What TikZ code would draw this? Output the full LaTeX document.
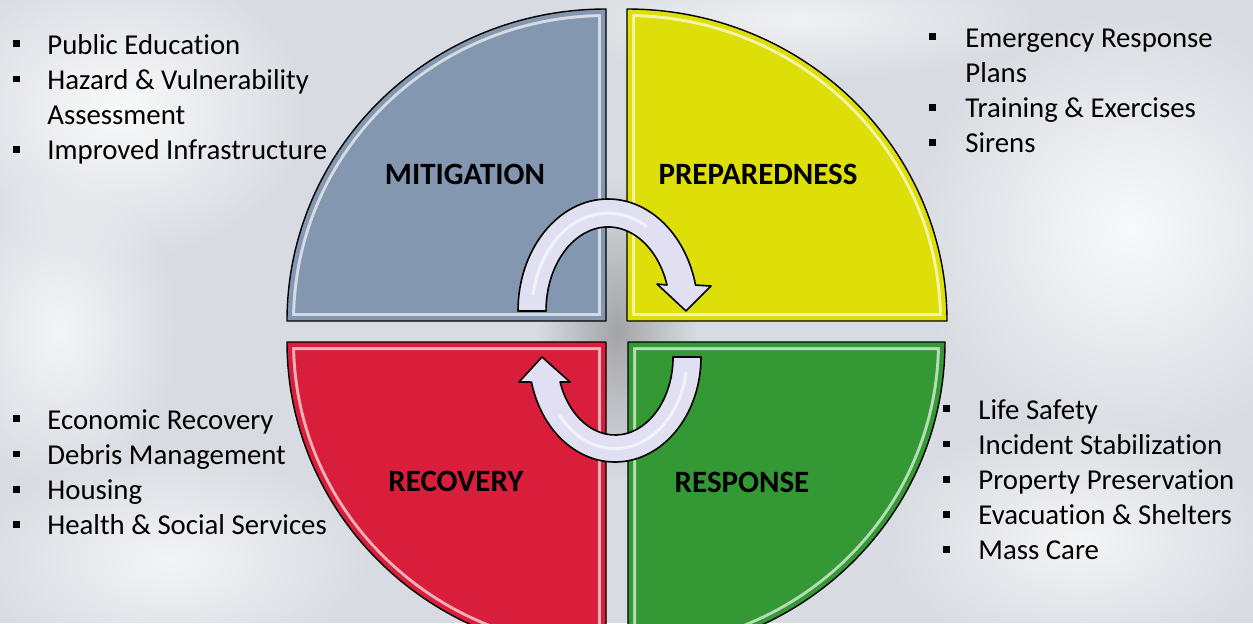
\documentclass[tikz,border=0pt]{standalone}
\usepackage{fontspec}
\setmainfont{Carlito}[Ligatures=CommonOff]
\usepackage{xcolor}
\usetikzlibrary{positioning, fadings}

\definecolor{slidegray}{RGB}{216,220,226}
\definecolor{mitblue}{RGB}{132,151,176}
\definecolor{preyellow}{RGB}{222,222,8}
\definecolor{recred}{RGB}{216,30,58}
\definecolor{resgreen}{RGB}{52,152,52}
\definecolor{arrowfill}{RGB}{224,224,242}

\tikzfading[name=softblob, inner color=transparent!0, outer color=transparent!100]

\newcommand{\bulletsq}{\rule[3.4pt]{3.4pt}{3.4pt}}
% one quarter of the cycle: fill, bevel, outline
\newcommand{\phasequarter}[2]{%
    \fill[#1] #2;
    \begin{scope}
        \clip #2;
        \draw[#1!35!white, line width=8pt] #2;
        \draw[#1, line width=5pt] #2;
    \end{scope}
    \draw[quarter] #2;
}

\tikzset{
x=0.5pt, y=-0.5pt, % one unit is one pixel of the slide, y runs down
quarter/.style={draw=black, line width=0.7pt, line join=round}, % outline of a phase
phase/.style={font=\fontsize{15.5}{18}\selectfont\bfseries, inner sep=0pt}, % phase names
duties/.style={font=\fontsize{14.4}{17.6}\selectfont, inner sep=0pt, anchor=base west}, % bullet lists
cyclearrow/.style={draw=black, line width=0.8pt, fill=arrowfill, line join=round}, % curved block arrows
shine/.style={white, opacity=.6, line width=1.5pt, line cap=round}, % highlight on the arrows
blob/.style={path fading=softblob}, % soft marble patches
}

\begin{document}
\begin{tikzpicture}
    % slide background
    \fill[slidegray] (0,0) rectangle (1253,623);
    \useasboundingbox (0,0) rectangle (1253,623);
    \fill[white, opacity=.85, blob] (120,110) ellipse (190 and 150);
    \fill[white, opacity=.7, blob] (60,330) ellipse (120 and 160);
    \fill[white, opacity=.7, blob] (170,560) ellipse (200 and 110);
    \fill[white, opacity=.85, blob] (1130,230) ellipse (220 and 220);
    \fill[white, opacity=.7, blob] (1080,540) ellipse (200 and 120);
    \fill[white, opacity=.6, blob] (800,20) ellipse (250 and 60);
    \fill[black!50, opacity=.6, blob] (617,330) ellipse (80 and 150);

    % the four phases
    \phasequarter{mitblue}{(606,321) -- (287,321) arc[start angle=180, end angle=270, x radius=319, y radius=312] -- cycle}
    \phasequarter{preyellow}{(627,321) -- (627,9) arc[start angle=270, end angle=360, x radius=320, y radius=312] -- cycle}
    \phasequarter{recred}{(606,342) -- (287,342) arc[start angle=180, end angle=90, x radius=319, y radius=312] -- cycle}
    \phasequarter{resgreen}{(628,342) -- (945,342) arc[start angle=0, end angle=90, x radius=317, y radius=312] -- cycle}

    \node[phase] (mitigation) at (465,174) {MITIGATION};
    \node[phase] (preparedness) at (758,174) {PREPAREDNESS};
    \node[phase] (recovery) at (456,481) {RECOVERY};
    \node[phase] (response) at (742,482) {RESPONSE};

    % cycle arrows
    \path[cyclearrow] (518,311) arc[start angle=180, end angle=346.6, x radius=90, y radius=112]
        -- (711,286) -- (686,311) -- (657,284) -- (667,285)
        arc[start angle=342, end angle=180, x radius=62, y radius=84] -- cycle;
    \draw[shine] (533.2,294) arc[start angle=190, end angle=300, x radius=76, y radius=98];
    \path[cyclearrow] (673,357) -- (701,357) arc[start angle=0, end angle=166.2, x radius=86, y radius=105]
        -- (519,382) -- (542,357) -- (570,382) -- (560.1,382)
        arc[start angle=161.3, end angle=0, x radius=58, y radius=78] -- cycle;
    \draw[shine] (685.9,372.9) arc[start angle=10, end angle=140, x radius=72, y radius=91.5];

    % what each phase covers
    \node[duties] (mitlist) at (13,54) {\begin{tabular}[t]{@{}l@{\hspace{13.6pt}}l@{}}
        \bulletsq & Public Education\\
        \bulletsq & Hazard \& Vulnerability\\
                  & Assessment\\
        \bulletsq & Improved Infrastructure
    \end{tabular}};
    \node[duties] (prelist) at (929,47) {\begin{tabular}[t]{@{}l@{\hspace{14.6pt}}l@{}}
        \bulletsq & Emergency Response\\
                  & Plans\\
        \bulletsq & Training \& Exercises\\
        \bulletsq & Sirens
    \end{tabular}};
    \node[duties] (reclist) at (13,429) {\begin{tabular}[t]{@{}l@{\hspace{13.6pt}}l@{}}
        \bulletsq & Economic Recovery\\
        \bulletsq & Debris Management\\
        \bulletsq & Housing\\
        \bulletsq & Health \& Social Services
    \end{tabular}};
    \node[duties] (reslist) at (943,419) {\begin{tabular}[t]{@{}l@{\hspace{14.1pt}}l@{}}
        \bulletsq & Life Safety\\
        \bulletsq & Incident Stabilization\\
        \bulletsq & Property Preservation\\
        \bulletsq & Evacuation \& Shelters\\
        \bulletsq & Mass Care
    \end{tabular}};
\end{tikzpicture}
\end{document}
